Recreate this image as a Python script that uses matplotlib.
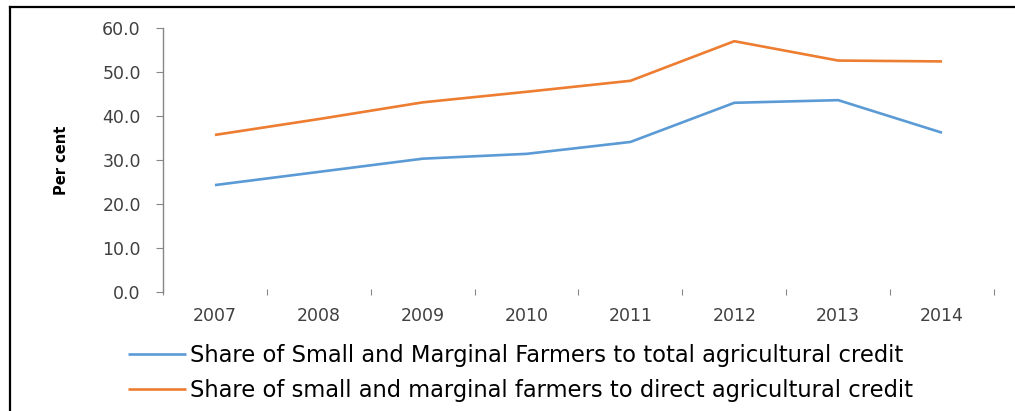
import matplotlib
matplotlib.use("Agg")
import matplotlib.pyplot as plt
from matplotlib.lines import Line2D

years = ["2007", "2008", "2009", "2010", "2011", "2012", "2013", "2014"]
share_total = [24.3, 27.3, 30.3, 31.4, 34.1, 43.0, 43.6, 36.2]
share_direct = [35.7, 39.3, 43.1, 45.5, 48.0, 57.0, 52.6, 52.4]

label_total = "Share of Small and Marginal Farmers to total agricultural credit"
label_direct = "Share of small and marginal farmers to direct agricultural credit"

blue = "#5B9BD5"
orange = "#ED7D31"
axis_grey = "#868686"
text_grey = "#404040"

plt.rcParams["font.family"] = ["DejaVu Sans"]

fig = plt.figure(figsize=(10.15, 4.11), dpi=100)
ax = fig.add_axes([0.1606, 0.2895, 0.8187, 0.6424])

x = list(range(len(years)))
ax.plot(x, share_total, color=blue, lw=1.9, solid_capstyle="butt", label=label_total)
ax.plot(x, share_direct, color=orange, lw=1.9, solid_capstyle="butt", label=label_direct)

ax.set_xlim(-0.5, len(years) - 0.5)
ax.set_ylim(0, 60)
ax.set_yticks(range(0, 61, 10))
ax.set_yticklabels([f"{v:.1f}" for v in range(0, 61, 10)])
ax.set_xticks(x)
ax.set_xticklabels(years)
ax.set_xticks([i - 0.5 for i in range(len(years) + 1)], minor=True)

for side in ["top", "right", "bottom"]:
    ax.spines[side].set_visible(False)
ax.spines["left"].set_color(axis_grey)
ax.spines["left"].set_linewidth(1.0)

ax.tick_params(axis="y", length=5, width=0.8, color=axis_grey, pad=11,
               labelsize=12.5, labelcolor=text_grey)
ax.tick_params(axis="x", which="major", length=0, pad=11,
               labelsize=12.5, labelcolor=text_grey)
ax.tick_params(axis="x", which="minor", length=5, width=0.8, color=axis_grey,
               direction="inout")

fig.text(0.061, 0.61, "Per cent", rotation=90, ha="center", va="center",
         fontsize=10.5, fontweight="bold", color="black")

ax.legend(loc="upper left", bbox_to_anchor=(0.126, 0.162),
          bbox_transform=fig.transFigure, frameon=False, fontsize=16.3,
          handlelength=2.55, handletextpad=0.2, labelspacing=0.53,
          borderaxespad=0, borderpad=0, labelcolor="black")

# outer frame: left and top edges only
fig.add_artist(Line2D([0.0103, 0.0103], [0, 1 - 7 / 411], transform=fig.transFigure,
                      color="black", lw=1.6))
fig.add_artist(Line2D([0.0103, 1], [1 - 7 / 411, 1 - 7 / 411], transform=fig.transFigure,
                      color="black", lw=1.6))

fig.savefig("out.png", dpi=100)
plt.close("all")
